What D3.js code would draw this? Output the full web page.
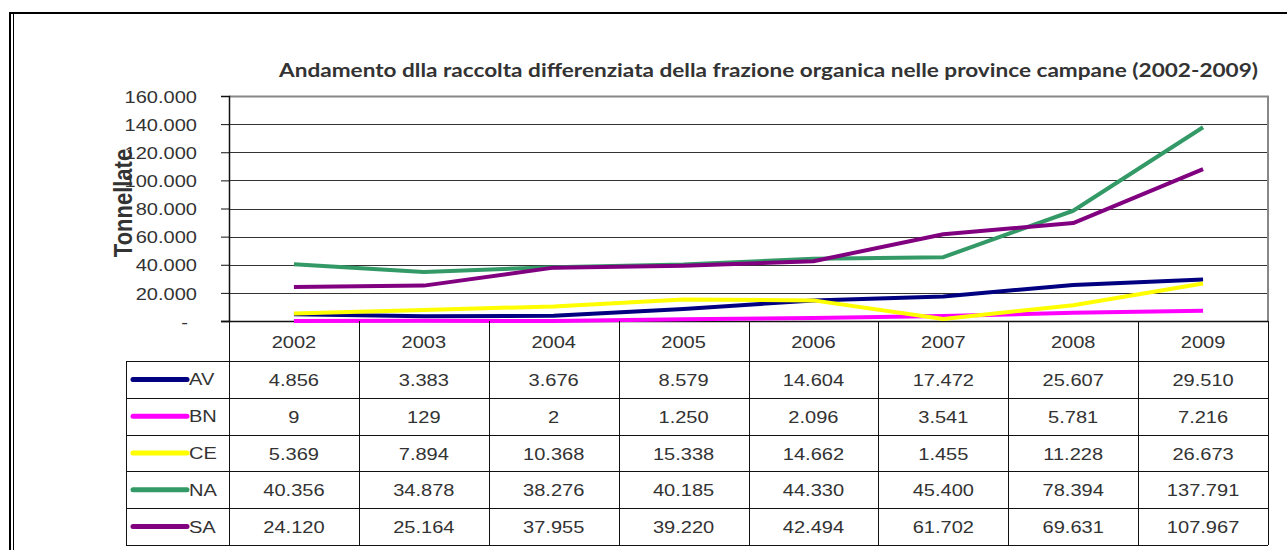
<!DOCTYPE html>
<html>
<head>
<meta charset="utf-8">
<title>Raccolta differenziata frazione organica</title>
<style>
  body { margin: 0; background: #fff; }
  svg { display: block; }
  text { font-family: "Liberation Sans", Arial, sans-serif; fill: #333; }
</style>
<script src="https://d3js.org/d3.v7.min.js"></script>
</head>
<body>
<script>
// data
var years = ["2002", "2003", "2004", "2005", "2006", "2007", "2008", "2009"];
var seriesNames = ["AV", "BN", "CE", "NA", "SA"];
var seriesColors = ["#000080", "#ff00ff", "#ffff00", "#339966", "#800080"];
var AV = [4856, 3383, 3676, 8579, 14604, 17472, 25607, 29510];
var BN = [9, 129, 2, 1250, 2096, 3541, 5781, 7216];
var CE = [5369, 7894, 10368, 15338, 14662, 1455, 11228, 26673];
var NA = [40356, 34878, 38276, 40185, 44330, 45400, 78394, 137791];
var SA = [24120, 25164, 37955, 39220, 42494, 61702, 69631, 107967];
var yTicks = [0, 20000, 40000, 60000, 80000, 100000, 120000, 140000, 160000];
var title = "Andamento dlla raccolta differenziata della frazione organica nelle province campane (2002-2009)";
var yTitle = "Tonnellate";

var seriesValues = [AV, BN, CE, NA, SA];

var W = 1287, H = 550;
var plotLeft = 229, plotRight = 1268, plotTop = 96, plotBottom = 321;
var legendLeft = 126;
var headerBottom = 361, rowH = 36.8;
var stretch = 1.18; // the screenshot is wider than normal text
var fs = "17px";

var it = d3.formatLocale({decimal: ",", thousands: ".", grouping: [3], currency: ["€", ""]});
var fmt = it.format(",d");

var svg = d3.select("body").append("svg")
    .attr("width", W)
    .attr("height", H);

svg.append("rect").attr("width", W).attr("height", H).attr("fill", "white");

// outer frame (double line on the left, line on top)
svg.append("line").attr("x1", 10).attr("x2", 10).attr("y1", 12).attr("y2", H)
    .attr("stroke", "black").attr("stroke-width", 2);
svg.append("line").attr("x1", 13.5).attr("x2", 13.5).attr("y1", 14).attr("y2", H)
    .attr("stroke", "black").attr("stroke-width", 1);
svg.append("line").attr("x1", 9).attr("x2", W).attr("y1", 13).attr("y2", 13)
    .attr("stroke", "black").attr("stroke-width", 2);

var x = d3.scaleBand().domain(years).range([plotLeft, plotRight]).padding(0);
var y = d3.scaleLinear().domain([0, 160000]).range([plotBottom, plotTop]);

// gridlines
svg.append("g")
    .selectAll("line")
    .data(yTicks.slice(1, -1))
    .join("line")
    .attr("x1", plotLeft).attr("x2", plotRight)
    .attr("y1", function(d) { return Math.round(y(d)) + 0.5; })
    .attr("y2", function(d) { return Math.round(y(d)) + 0.5; })
    .attr("stroke", "#333").attr("stroke-width", 1);

// plot area border top/right (grey)
svg.append("path")
    .attr("d", "M" + plotLeft + "," + (plotTop + 0.5) + "H" + plotRight + "V" + plotBottom)
    .attr("fill", "none").attr("stroke", "#888").attr("stroke-width", 2);

// y axis
var yAxis = svg.append("g")
    .attr("transform", "translate(" + plotLeft + ",0)")
    .call(d3.axisLeft(y).tickValues(yTicks).tickSize(8).tickFormat(function(d) { return d === 0 ? "-" : fmt(d); }));
yAxis.select(".domain").attr("stroke", "#111").attr("stroke-width", 1.5);
yAxis.selectAll(".tick line").attr("stroke", "#111");
yAxis.selectAll(".tick text")
    .attr("x", 0)
    .attr("dy", "0.36em")
    .attr("fill", "#333")
    .style("font-size", fs)
    .style("font-family", "'Liberation Sans', Arial, sans-serif")
    .attr("transform", function(d) { return d === 0 ? "translate(-41,0) scale(" + stretch + ",1)" : "translate(-32,0) scale(" + stretch + ",1)"; });

// x axis line
svg.append("line")
    .attr("x1", plotLeft - 8).attr("x2", plotRight)
    .attr("y1", plotBottom + 0.5).attr("y2", plotBottom + 0.5)
    .attr("stroke", "#111").attr("stroke-width", 1.5);

// series lines
var line = d3.line()
    .x(function(d, i) { return x(years[i]) + x.bandwidth() / 2; })
    .y(function(d) { return y(d); });

svg.append("g")
    .selectAll("path")
    .data(seriesValues)
    .join("path")
    .attr("d", function(d) { return line(d); })
    .attr("fill", "none")
    .attr("stroke", function(d, i) { return seriesColors[i]; })
    .attr("stroke-width", 4)
    .attr("stroke-linejoin", "round");

// data table
var tableBottom = headerBottom + rowH * seriesNames.length;
var table = svg.append("g").attr("stroke", "#111").attr("stroke-width", 1);

// horizontal lines
d3.range(seriesNames.length + 1).forEach(function(r) {
    var yy = Math.round(headerBottom + r * rowH) + 0.5;
    table.append("line").attr("x1", legendLeft).attr("x2", plotRight).attr("y1", yy).attr("y2", yy);
});
// vertical lines
table.append("line").attr("x1", legendLeft + 0.5).attr("x2", legendLeft + 0.5)
    .attr("y1", headerBottom).attr("y2", tableBottom);
years.forEach(function(yr) {
    var xx = Math.round(x(yr)) + 0.5;
    table.append("line").attr("x1", xx).attr("x2", xx).attr("y1", plotBottom).attr("y2", tableBottom);
});
table.append("line").attr("x1", plotRight + 0.5).attr("x2", plotRight + 0.5).attr("y1", plotBottom).attr("y2", tableBottom);

// header years
svg.append("g")
    .selectAll("text")
    .data(years)
    .join("text")
    .attr("transform", function(d) {
        return "translate(" + (x(d) + x.bandwidth() / 2) + "," + (plotBottom + 27) + ") scale(" + stretch + ",1)";
    })
    .attr("text-anchor", "middle")
    .style("font-size", fs)
    .text(function(d) { return d; });

// rows
var rows = svg.append("g")
    .selectAll("g")
    .data(seriesNames)
    .join("g")
    .attr("transform", function(d, i) { return "translate(0," + (headerBottom + (i + 0.5) * rowH) + ")"; });

rows.append("line")
    .attr("x1", 133).attr("x2", 187)
    .attr("y1", 0).attr("y2", 0)
    .attr("stroke", function(d, i) { return seriesColors[i]; })
    .attr("stroke-width", 5)
    .attr("stroke-linecap", "round");

rows.append("text")
    .attr("transform", "translate(189,6) scale(" + stretch + ",1)")
    .style("font-size", fs)
    .text(function(d) { return d; });

rows.each(function(name, i) {
    d3.select(this).selectAll("text.val")
        .data(seriesValues[i])
        .join("text")
        .attr("class", "val")
        .attr("transform", function(d, j) {
            return "translate(" + (x(years[j]) + x.bandwidth() / 2) + ",6.5) scale(" + stretch + ",1)";
        })
        .attr("text-anchor", "middle")
        .style("font-size", fs)
        .text(function(d) { return fmt(d); });
});

// y title
svg.append("text")
    .attr("transform", "translate(132,203) scale(" + stretch + ",1) rotate(-90)")
    .attr("text-anchor", "middle")
    .style("font-size", "22px")
    .style("font-weight", "bold")
    .attr("fill", "#111")
    .text(yTitle);

// chart title
svg.append("text")
    .attr("x", 279)
    .attr("y", 77)
    .attr("textLength", 979)
    .attr("lengthAdjust", "spacingAndGlyphs")
    .style("font-family", "Lato, 'Open Sans', sans-serif")
    .style("font-size", "18px")
    .style("font-weight", "bold")
    .attr("fill", "#111")
    .text(title);
</script>
</body>
</html>
